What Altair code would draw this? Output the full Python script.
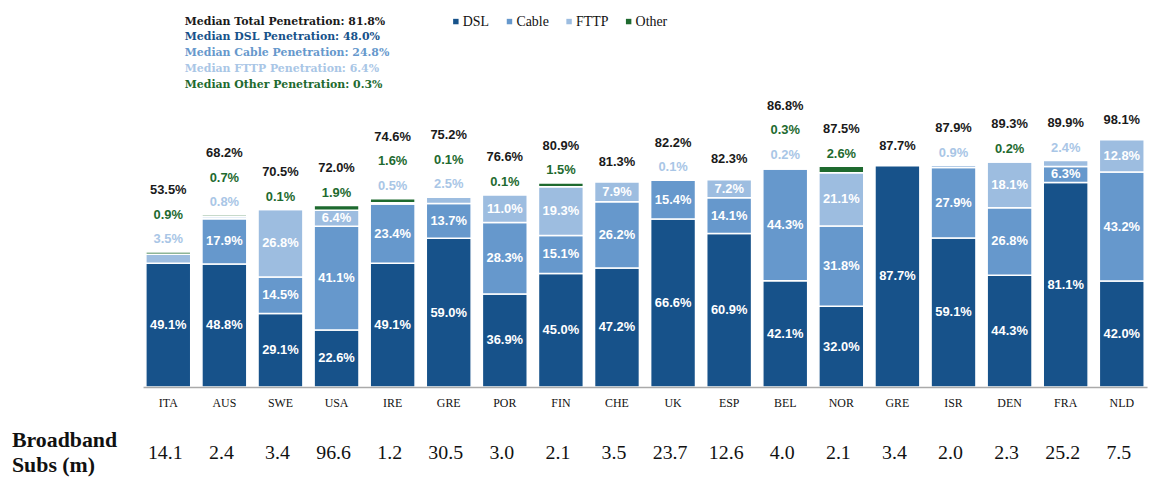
import altair as alt
import pandas as pd

countries = ["ITA", "AUS", "SWE", "USA", "IRE", "GRE", "POR", "FIN", "CHE", "UK",
             "ESP", "BEL", "NOR", "GRE", "ISR", "DEN", "FRA", "NLD"]
dsl = [49.1, 48.8, 29.1, 22.6, 49.1, 59.0, 36.9, 45.0, 47.2, 66.6, 60.9, 42.1, 32.0, 87.7, 59.1, 44.3, 81.1, 42.0]
cable = [0, 17.9, 14.5, 41.1, 23.4, 13.7, 28.3, 15.1, 26.2, 15.4, 14.1, 44.3, 31.8, 0, 27.9, 26.8, 6.3, 43.2]
fttp = [3.5, 0.8, 26.8, 6.4, 0.5, 2.5, 11.0, 19.3, 7.9, 0.1, 7.2, 0.2, 21.1, 0, 0.9, 18.1, 2.4, 12.8]
other = [0.9, 0.7, 0.1, 1.9, 1.6, 0.1, 0.1, 1.5, 0, 0, 0, 0.3, 2.6, 0, 0, 0.2, 0, 0]
total = [53.5, 68.2, 70.5, 72.0, 74.6, 75.2, 76.6, 80.9, 81.3, 82.2, 82.3, 86.8, 87.5, 87.7, 87.9, 89.3, 89.9, 98.1]
subs = [14.1, 2.4, 3.4, 96.6, 1.2, 30.5, 3.0, 2.1, 3.5, 23.7, 12.6, 4.0, 2.1, 3.4, 2.0, 2.3, 25.2, 7.5]

segments = ["DSL", "Cable", "FTTP", "Other"]
seg_colors = ["#17528a", "#6698cc", "#9dbde0", "#1e6a2f"]
median_lines = ["Median Total Penetration:  81.8%", "Median DSL Penetration:  48.0%",
                "Median Cable Penetration:  24.8%", "Median FTTP Penetration:  6.4%",
                "Median Other Penetration:  0.3%"]
median_colors = ["#1a1a1a", "#17528a", "#6698cc", "#a9c6e6", "#1e6a2f"]

INSIDE_MIN = 5.0

keys = [f"{i:02d}|{c}" for i, c in enumerate(countries)]
seg_rows, in_rows, out_rows = [], [], []
for i, k in enumerate(keys):
    vals = [dsl[i], cable[i], fttp[i], other[i]]
    y0 = 0.0
    for s, v in zip(segments, vals):
        if v > 0:
            seg_rows.append({"key": k, "seg": s, "y0": y0, "y1": y0 + v})
            if v >= INSIDE_MIN:
                in_rows.append({"key": k, "ym": y0 + v / 2, "lab": f"{v:.1f}%"})
        y0 += v
    top = y0
    outs = []
    if 0 < fttp[i] < INSIDE_MIN:
        outs.append(("fttp", fttp[i]))
    if other[i] > 0:
        outs.append(("other", other[i]))
    outs.append(("total", total[i]))
    for r, (t, v) in enumerate(outs):
        off = 8.0 if len(outs) == 1 else 5.0 + 9.8 * r
        out_rows.append({"key": k, "ly": top + off, "lab": f"{v:.1f}%", "kind": t})

seg_df = pd.DataFrame(seg_rows)
in_df = pd.DataFrame(in_rows)
out_df = pd.DataFrame(out_rows)
subs_df = pd.DataFrame({"key": keys, "subs": subs})

xenc = alt.X("key:N", sort="ascending",
             scale=alt.Scale(paddingInner=0.2, paddingOuter=0.05),
             axis=alt.Axis(title=None, labelAngle=0, labelFont="Liberation Serif",
                           labelFontSize=12, labelColor="#111", ticks=False,
                           domainColor="#aaaaaa", domainWidth=1.5, labelPadding=11,
                           zindex=1, labelExpr="split(datum.label, '|')[1]"))
yscale = alt.Scale(domain=[0, 100], nice=False, zero=True)

bars = alt.Chart(seg_df).mark_bar(stroke="white", strokeWidth=1.5).encode(
    x=xenc,
    y=alt.Y("y0:Q", scale=yscale, axis=None),
    y2="y1:Q",
    color=alt.Color("seg:N", scale=alt.Scale(domain=segments, range=seg_colors),
                    legend=alt.Legend(orient="none", legendX=308, legendY=-121,
                                      direction="horizontal", title=None,
                                      symbolType="square", symbolSize=30,
                                      symbolStrokeWidth=0, labelFont="Liberation Serif",
                                      labelFontSize=14, labelColor="#111",
                                      columnPadding=13, labelOffset=0, padding=0)),
)

inside = alt.Chart(in_df).mark_text(font="Liberation Sans", fontWeight="bold",
                                    fontSize=13, color="white", baseline="middle").encode(
    x=alt.X("key:N", sort="ascending"),
    y=alt.Y("ym:Q", scale=yscale),
    text="lab:N",
)

outside = alt.Chart(out_df).mark_text(font="Liberation Sans", fontWeight="bold",
                                      fontSize=13, baseline="middle").encode(
    x=alt.X("key:N", sort="ascending"),
    y=alt.Y("ly:Q", scale=yscale),
    text="lab:N",
    color=alt.Color("kind:N", scale=alt.Scale(domain=["fttp", "other", "total"],
                                              range=["#a9c6e6", "#1e6a2f", "#1a1a1a"]),
                    legend=None),
)

subs_text = alt.Chart(subs_df).mark_text(font="Liberation Serif", fontSize=20,
                                         color="#111", baseline="middle", dx=-3).encode(
    x=alt.X("key:N", sort="ascending"),
    y=alt.value(321),
    text=alt.Text("subs:Q", format=".1f"),
)

subs_title = [
    alt.Chart(pd.DataFrame({"t": [txt]})).mark_text(
        font="Liberation Serif", fontWeight="bold", fontSize=22, color="#111",
        align="left", baseline="middle").encode(
        x=alt.value(-132), y=alt.value(yv), text="t:N")
    for txt, yv in [("Broadband", 307), ("Subs (m)", 333)]
]

medians = [
    alt.Chart(pd.DataFrame({"t": [line]})).mark_text(
        font="DejaVu Serif", fontWeight="bold", fontSize=11, color=col,
        align="left", baseline="middle").encode(
        x=alt.value(42), y=alt.value(-114 + 16 * j), text="t:N")
    for j, (line, col) in enumerate(zip(median_lines, median_colors))
]

chart = alt.layer(bars, inside, outside, subs_text, *subs_title, *medians).resolve_scale(
    color="independent"
).properties(
    width=1011, height=254,
    autosize=alt.AutoSizeParams(type="none"),
    padding={"left": 136, "top": 126, "right": 1, "bottom": 90},
).configure_view(stroke=None).configure_axis(grid=False)

chart.save("out.html", embed_options={"renderer": "svg", "actions": False})
